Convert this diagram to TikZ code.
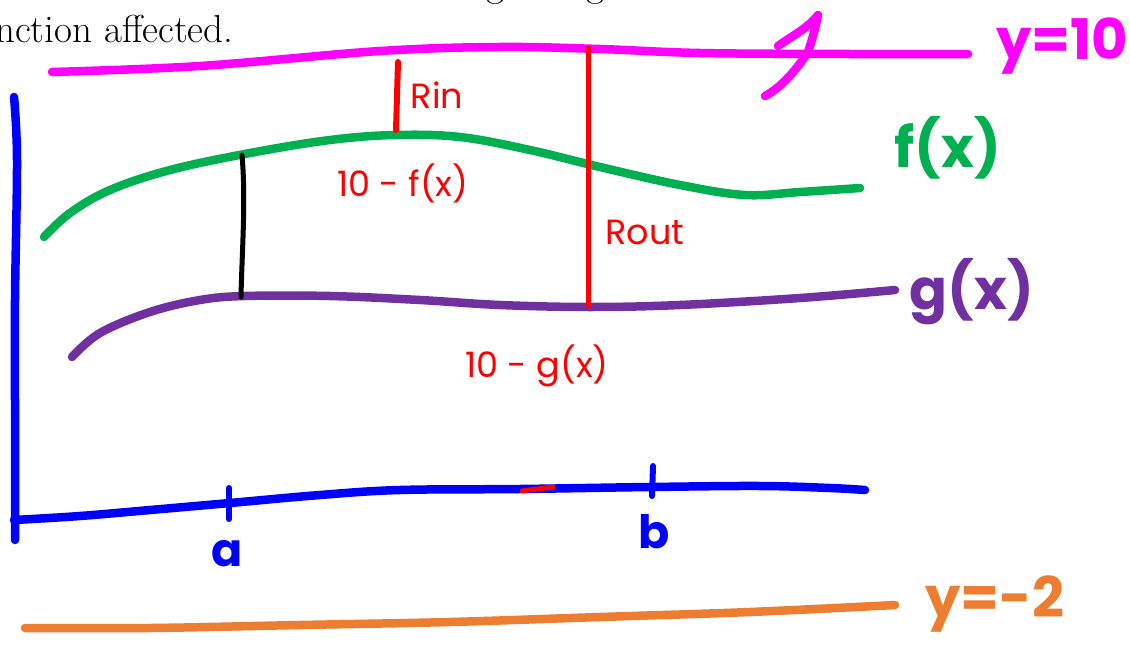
\documentclass[tikz,border=0pt]{standalone}
\usepackage{fontspec}
\newfontfamily\hand{Poppins}
\definecolor{cmag}{HTML}{FF00FF}
\definecolor{cgreen}{HTML}{00B050}
\definecolor{cpurple}{HTML}{7030A0}
\definecolor{cblue}{HTML}{0000FF}
\definecolor{cred}{HTML}{FF0000}
\definecolor{corange}{HTML}{ED7D31}
\begin{document}
\begin{tikzpicture}[x=1pt,y=-1pt,
  pen/.style={line width=8.5pt,line cap=round,line join=round},
  redpen/.style={line width=5pt,line cap=round,line join=round,cred},
  biglab/.style={font=\hand\bfseries\fontsize{56}{56}\selectfont,inner sep=0pt},
  redlab/.style={font=\hand\fontsize{35}{35}\selectfont,inner sep=0pt,text=cred},
  prose/.style={font=\fontsize{39}{44}\selectfont,inner sep=0pt}]
\useasboundingbox (0,0) rectangle (1130,645);
\begin{scope}
  \clip (0,0) rectangle (1130,645);
  \node[prose,anchor=base west] (txt) at (-5,42) {nction affected.};
  \node[prose,anchor=base] (g1) at (495,-4) {g};
  \node[prose,anchor=base] (g2) at (595,-4) {g};
\end{scope}
% y = 10 line
\draw[pen,cmag] plot[smooth,tension=0.6] coordinates {(52,72) (200,66) (380,51) (500,47) (600,49) (700,53) (850,54) (968,54)};
\draw[pen,cmag] (778,46) .. controls (795,34) and (808,28) .. (818,15) .. controls (815,30) and (812,40) .. (808,52) .. controls (795,72) and (780,88) .. (765,96);
% f(x)
\draw[pen,cgreen] plot[smooth,tension=0.6] coordinates {(44,237) (70,213) (110,190) (170,170) (250,153) (330,140) (395,135) (460,137) (530,150) (600,167) (680,185) (745,195) (800,192) (860,188)};
% g(x)
\draw[pen,cpurple] plot[smooth,tension=0.6] coordinates {(72,357) (100,333) (150,312) (200,300) (245,296) (330,296) (420,300) (500,305) (590,307) (680,305) (800,298) (895,290)};
% axes
\draw[pen,cblue] plot[smooth,tension=0.6] coordinates {(14,97) (17,160) (15,300) (15,400) (15,540)};
\draw[pen,cblue] plot[smooth,tension=0.6] coordinates {(14,520) (80,516) (150,510) (230,503) (320,495) (400,490) (520,489) (650,487) (760,486) (830,488) (865,490)};
\draw[pen,cblue,line width=6pt] (229,488) -- (229,519);
\draw[pen,cblue,line width=6pt] (653,466) -- (652,496);
\draw[redpen] (522,491) -- (553,487);
% y = -2 line
\draw[pen,corange] plot[smooth,tension=0.6] coordinates {(25,628) (150,628) (300,625) (450,622) (600,617) (750,612) (895,605)};
% radii
\draw[pen,black,line width=5pt] (242,155) .. controls (246,200) and (242,250) .. (241,297);
\draw[redpen,line width=6pt] (398,62) -- (396,130);
\draw[redpen] (588,48) -- (588,306);
% labels
\node[biglab,text=cmag] (ly10) at (1062,46) {y=10};
\node[biglab,text=cgreen] (lf) at (948,148) {f(x)};
\node[biglab,text=cpurple] (lg) at (972,292) {g(x)};
\node[biglab,text=corange] (lym2) at (995,604) {y=-2};
\node[biglab,text=cblue,font=\hand\bfseries\fontsize{46}{46}\selectfont] (la) at (227,554) {a};
\node[biglab,text=cblue,font=\hand\bfseries\fontsize{46}{46}\selectfont] (lb) at (654,532) {b};
\node[redlab] (lrin) at (437,95) {Rin};
\node[redlab] (lf10) at (403,183) {10 - f(x)};
\node[redlab] (lrout) at (645,232) {Rout};
\node[redlab] (lg10) at (537,366) {10 - g(x)};
\end{tikzpicture}
\end{document}
